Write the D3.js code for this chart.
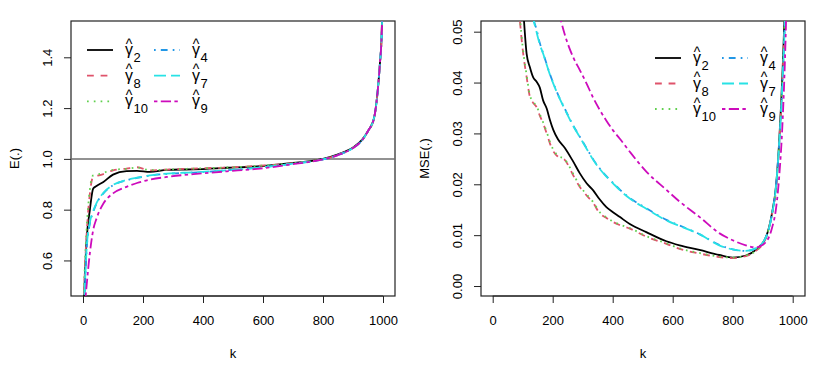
<!DOCTYPE html>
<html>
<head>
<meta charset="utf-8">
<script src="https://cdn.jsdelivr.net/npm/d3@7"></script>
<style>
  body { margin: 0; background: #fff; }
  svg text { font-family: "Liberation Sans", Arial, sans-serif; fill: #000; }
</style>
</head>
<body>
<div id="chart"></div>
<script>
// ---- data ----
const kTicks = [0, 200, 400, 600, 800, 1000];
const eTicks = [0.6, 0.8, 1.0, 1.2, 1.4];
const mseTicks = [0.00, 0.01, 0.02, 0.03, 0.04, 0.05];

const kLeft = [1, 5, 12, 23, 34, 45, 68, 100, 145, 180, 223, 280, 368, 480, 590, 700, 800, 850, 900, 930, 950, 970, 980, 990, 995, 1000];
const eG2  = [0.35, 0.50, 0.68, 0.80, 0.883, 0.893, 0.909, 0.938, 0.952, 0.953, 0.949, 0.957, 0.959, 0.965, 0.971, 0.984, 1.000, 1.018, 1.045, 1.075, 1.110, 1.160, 1.240, 1.380, 1.470, 1.700];
const eG8  = [0.36, 0.52, 0.70, 0.864, 0.930, 0.933, 0.940, 0.955, 0.962, 0.967, 0.955, 0.958, 0.962, 0.966, 0.973, 0.983, 0.999, 1.016, 1.043, 1.073, 1.108, 1.158, 1.240, 1.380, 1.470, 1.700];
const eG10 = [0.37, 0.54, 0.72, 0.880, 0.935, 0.937, 0.945, 0.957, 0.961, 0.966, 0.956, 0.958, 0.962, 0.966, 0.973, 0.983, 0.999, 1.016, 1.043, 1.073, 1.108, 1.158, 1.240, 1.380, 1.470, 1.700];
const eG4  = [0.33, 0.45, 0.64, 0.746, 0.790, 0.824, 0.864, 0.896, 0.916, 0.925, 0.934, 0.941, 0.946, 0.955, 0.966, 0.981, 0.998, 1.015, 1.043, 1.073, 1.110, 1.160, 1.240, 1.380, 1.470, 1.700];
const eG7  = [0.33, 0.46, 0.645, 0.750, 0.795, 0.826, 0.866, 0.897, 0.917, 0.926, 0.935, 0.942, 0.947, 0.955, 0.966, 0.981, 0.998, 1.015, 1.043, 1.073, 1.110, 1.160, 1.240, 1.380, 1.470, 1.700];
const eG9  = [0.30, 0.40, 0.50, 0.630, 0.720, 0.765, 0.824, 0.864, 0.890, 0.905, 0.918, 0.929, 0.940, 0.951, 0.962, 0.979, 0.998, 1.015, 1.043, 1.073, 1.110, 1.160, 1.240, 1.380, 1.470, 1.700];

const kRight = [80, 100, 113, 124, 135, 146, 157, 168, 180, 191, 202, 218, 240, 268, 290, 313, 335, 357, 379, 401, 423, 457, 512, 579, 623, 689, 755, 800, 844, 877, 910, 930, 945, 955, 966, 975, 985];
const mG2  = [0.075, 0.056, 0.0457, 0.043, 0.0410, 0.0402, 0.0390, 0.0365, 0.0349, 0.0326, 0.0307, 0.0288, 0.0272, 0.0245, 0.0222, 0.0202, 0.0188, 0.0170, 0.0155, 0.0145, 0.0136, 0.0122, 0.0106, 0.0088, 0.0080, 0.0071, 0.0061, 0.0056, 0.0060, 0.0071, 0.0095, 0.0140, 0.0200, 0.0285, 0.0420, 0.058, 0.09];
const mG8  = [0.060, 0.0465, 0.0411, 0.0372, 0.0360, 0.0352, 0.0335, 0.0320, 0.0300, 0.0280, 0.0265, 0.0254, 0.0248, 0.0218, 0.0195, 0.0178, 0.0163, 0.0143, 0.0134, 0.0126, 0.0120, 0.0113, 0.0097, 0.0083, 0.0073, 0.0064, 0.0057, 0.0055, 0.0059, 0.0069, 0.0093, 0.0138, 0.0195, 0.0280, 0.0410, 0.056, 0.09];
const mG10 = [0.061, 0.0470, 0.0415, 0.0375, 0.0362, 0.0354, 0.0338, 0.0322, 0.0303, 0.0283, 0.0268, 0.0256, 0.0249, 0.0221, 0.0197, 0.0180, 0.0165, 0.0145, 0.0135, 0.0127, 0.0121, 0.0114, 0.0098, 0.0084, 0.0074, 0.0065, 0.0058, 0.0056, 0.0060, 0.0069, 0.0093, 0.0138, 0.0195, 0.0280, 0.0410, 0.056, 0.09];
const mG4  = [0.090, 0.075, 0.068, 0.060, 0.053, 0.0505, 0.0478, 0.0458, 0.0436, 0.0416, 0.0399, 0.0376, 0.0349, 0.0316, 0.0294, 0.0271, 0.0249, 0.0231, 0.0216, 0.0203, 0.0190, 0.0173, 0.0153, 0.0130, 0.0119, 0.0102, 0.0081, 0.0072, 0.0069, 0.0074, 0.0095, 0.0138, 0.0200, 0.0280, 0.0400, 0.055, 0.09];
const mG7  = [0.090, 0.075, 0.068, 0.060, 0.053, 0.0500, 0.0475, 0.0457, 0.0435, 0.0415, 0.0398, 0.0375, 0.0348, 0.0315, 0.0293, 0.0270, 0.0248, 0.0230, 0.0215, 0.0202, 0.0189, 0.0172, 0.0152, 0.0129, 0.0118, 0.0102, 0.0080, 0.0072, 0.0069, 0.0074, 0.0095, 0.0138, 0.0200, 0.0280, 0.0400, 0.055, 0.09];
const mG9  = [0.120, 0.100, 0.092, 0.086, 0.080, 0.076, 0.072, 0.068, 0.065, 0.062, 0.059, 0.0545, 0.0495, 0.0450, 0.0425, 0.0398, 0.0370, 0.0346, 0.0325, 0.0306, 0.0290, 0.0264, 0.0225, 0.0189, 0.0166, 0.0136, 0.0104, 0.0090, 0.0080, 0.0076, 0.0086, 0.0112, 0.0155, 0.0215, 0.0320, 0.046, 0.07];

const seriesNames = ['2', '8', '10', '4', '7', '9'];
const seriesColors = ['#000000', '#DF536B', '#61D04F', '#2297E6', '#28E2E5', '#CD0BBC'];
const seriesDash = [null, '6.8,6.8', '1.7,5.1', '1.7,5.1,6.8,5.1', '12,5', '3.4,3.4,10.2,3.4'];

const leftSeries = [eG2, eG8, eG10, eG4, eG7, eG9];
const rightSeries = [mG2, mG8, mG10, mG4, mG7, mG9];

// ---- drawing ----
const svg = d3.select('#chart').append('svg')
    .attr('width', 825)
    .attr('height', 372);

function drawPanel(opts) {
    const { box, xDomain, yDomain, yTicks, yFmt, yLabel, ks, series, legendPos, refLine, id } = opts;

    const x = d3.scaleLinear().domain(xDomain).range([box.left, box.right]);
    const y = d3.scaleLinear().domain(yDomain).range([box.bottom, box.top]);

    svg.append('clipPath')
        .attr('id', id)
        .append('rect')
        .attr('x', box.left)
        .attr('y', box.top)
        .attr('width', box.right - box.left)
        .attr('height', box.bottom - box.top);

    // x axis (R style, axis line spans the ticks)
    const xAxis = svg.append('g')
        .attr('transform', `translate(0, ${box.bottom})`)
        .call(d3.axisBottom(x).tickValues(kTicks).tickFormat(d3.format('d'))
            .tickSize(7).tickPadding(13).tickSizeOuter(0));
    xAxis.select('.domain').attr('d', `M${x(0)},0H${x(1000)}`).attr('stroke', '#222');
    xAxis.selectAll('.tick line').attr('stroke', '#222');
    xAxis.selectAll('text').style('font-size', '13px').attr('fill', '#000')
        .style('font-family', '"Liberation Sans", Arial, sans-serif');

    // y axis with rotated labels
    const yAxis = svg.append('g')
        .attr('transform', `translate(${box.left}, 0)`)
        .call(d3.axisLeft(y).tickValues(yTicks).tickFormat(yFmt).tickSize(7).tickSizeOuter(0));
    yAxis.select('.domain').remove();
    yAxis.selectAll('.tick line').attr('stroke', '#222');
    yAxis.selectAll('text')
        .style('font-size', '13px')
        .style('font-family', '"Liberation Sans", Arial, sans-serif')
        .attr('fill', '#000')
        .attr('x', null)
        .attr('text-anchor', 'middle')
        .attr('transform', 'translate(-24, 0) rotate(-90)')
        .attr('y', 0)
        .attr('dy', '0.35em');

    // box
    svg.append('rect')
        .attr('x', box.left)
        .attr('y', box.top)
        .attr('width', box.right - box.left)
        .attr('height', box.bottom - box.top)
        .attr('fill', 'none')
        .attr('stroke', '#222')
        .attr('stroke-width', 1.2);

    // axis titles
    svg.append('text')
        .attr('x', (box.left + box.right) / 2)
        .attr('y', 358)
        .attr('text-anchor', 'middle')
        .style('font-size', '13px')
        .text('k');
    svg.append('text')
        .attr('transform', `translate(${box.left - 52}, ${(box.top + box.bottom) / 2}) rotate(-90)`)
        .attr('text-anchor', 'middle')
        .style('font-size', '13px')
        .text(yLabel);

    const plot = svg.append('g').attr('clip-path', `url(#${id})`);

    if (refLine !== undefined) {
        plot.append('line')
            .attr('x1', box.left).attr('x2', box.right)
            .attr('y1', y(refLine)).attr('y2', y(refLine))
            .attr('stroke', '#6e6e6e')
            .attr('stroke-width', 1.5);
    }

    const line = d3.line()
        .x((d, i) => x(ks[i]))
        .y(d => y(d))
        .curve(d3.curveMonotoneX);

    series.forEach((vals, i) => {
        plot.append('path')
            .datum(vals)
            .attr('fill', 'none')
            .attr('stroke', seriesColors[i])
            .attr('stroke-width', 1.8)
            .attr('stroke-dasharray', seriesDash[i])
            .attr('d', line);
    });

    // legend: 2 columns x 3 rows, label = gamma hat with subscript
    const lg = legendPos;
    seriesNames.forEach((name, i) => {
        const col = Math.floor(i / 3);
        const row = i % 3;
        const lx = lg.x + col * lg.colW;
        const ly = lg.y + row * lg.rowH;
        svg.append('line')
            .attr('x1', lx).attr('x2', lx + 26)
            .attr('y1', ly).attr('y2', ly)
            .attr('stroke', seriesColors[i])
            .attr('stroke-width', 1.8)
            .attr('stroke-dasharray', seriesDash[i]);
        const tx = lx + 38;
        const label = svg.append('text');
        label.append('tspan')
            .attr('x', tx + 0.7)
            .attr('y', ly - 1.5)
            .style('font-size', '14px')
            .text('^');
        label.append('tspan')
            .attr('x', tx)
            .attr('y', ly + 5)
            .style('font-size', '16px')
            .text('\u03b3');
        label.append('tspan')
            .attr('x', tx + 8.5)
            .attr('y', ly + 12)
            .style('font-size', '13px')
            .text(name);
    });
}

drawPanel({
    id: 'clipL',
    box: { left: 71, right: 395, top: 21, bottom: 296 },
    xDomain: [-40, 1040],
    yDomain: [0.46, 1.543],
    yTicks: eTicks,
    yFmt: d3.format('.1f'),
    yLabel: 'E(.)',
    ks: kLeft,
    series: leftSeries,
    legendPos: { x: 87, y: 50, colW: 67, rowH: 25.7 },
    refLine: 1.0
});

drawPanel({
    id: 'clipR',
    box: { left: 481, right: 805, top: 21, bottom: 296 },
    xDomain: [-39, 1041],
    yDomain: [-0.00196, 0.0521],
    yTicks: mseTicks,
    yFmt: d3.format('.2f'),
    yLabel: 'MSE(.)',
    ks: kRight,
    series: rightSeries,
    legendPos: { x: 655, y: 58, colW: 67, rowH: 25.5 }
});
</script>
</body>
</html>
